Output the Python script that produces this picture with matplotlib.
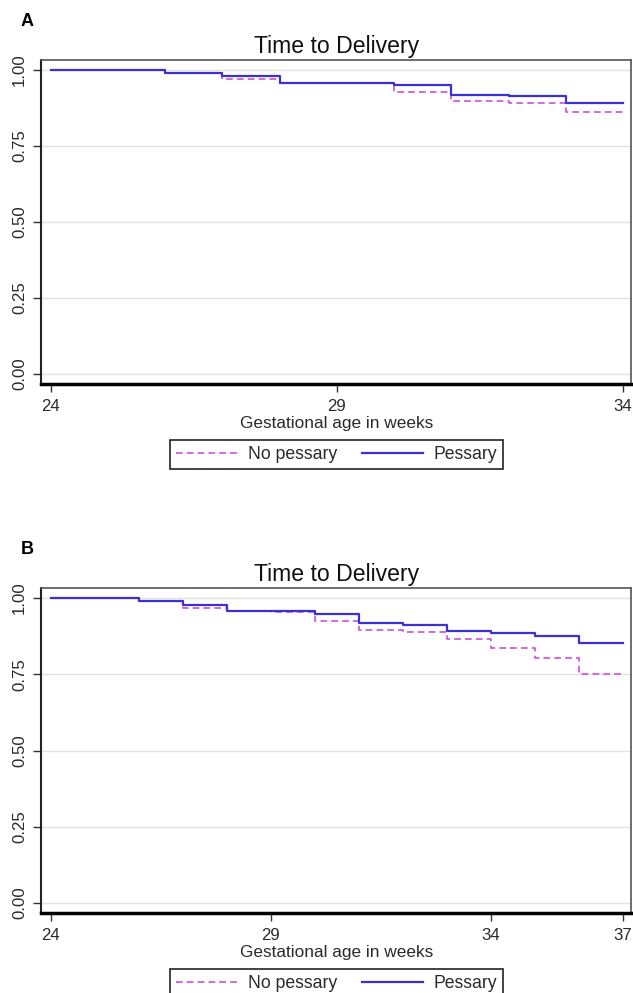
import matplotlib
matplotlib.use('Agg')
import matplotlib.pyplot as plt
from matplotlib import font_manager

# font: narrow sans if available
names = {f.name for f in font_manager.fontManager.ttflist}
FONT = 'Liberation Sans Narrow' if 'Liberation Sans Narrow' in names else 'Liberation Sans'
plt.rcParams['font.family'] = [FONT, 'DejaVu Sans']

# ==========================================
# DATA (Kaplan-Meier steps)
# ==========================================
a_t_pess = [24, 26, 27, 28, 30, 31, 32, 33, 34]
a_s_pess = [1.000, 0.991, 0.979, 0.958, 0.950, 0.919, 0.913, 0.892, 0.892]
a_t_nopess = [24, 26, 27, 28, 29, 30, 31, 32, 33, 34]
a_s_nopess = [1.000, 0.991, 0.969, 0.958, 0.956, 0.928, 0.898, 0.892, 0.863, 0.863]

b_t_pess = [24, 26, 27, 28, 30, 31, 32, 33, 34, 35, 36, 37]
b_s_pess = [1.000, 0.991, 0.976, 0.958, 0.948, 0.917, 0.911, 0.891, 0.885, 0.876, 0.853, 0.853]
b_t_nopess = [24, 26, 27, 28, 29, 30, 31, 32, 33, 34, 35, 36, 37]
b_s_nopess = [1.000, 0.991, 0.967, 0.958, 0.953, 0.925, 0.895, 0.889, 0.866, 0.836, 0.804, 0.750, 0.750]

a_xticks = [24, 29, 34]
b_xticks = [24, 29, 34, 37]
y_ticks = [0.00, 0.25, 0.50, 0.75, 1.00]

TITLE = 'Time to Delivery'
XLABEL = 'Gestational age in weeks'
LABELS = ['No pessary', 'Pessary']

C_PESS = '#3d2fd2'
C_NOPESS = '#cc4fdc'

W, H = 633, 993
NARROW = FONT == 'Liberation Sans Narrow'
K = 1.0 if NARROW else 0.83   # shrink wide font to keep text widths


def fx(px):
    return px / W


def fy(py):
    return 1 - py / H


def draw_panel(fig, top, bottom, letter, t_n, s_n, t_p, s_p, xticks, xlim):
    ax = fig.add_axes([fx(41), fy(bottom), fx(631) - fx(41), (bottom - top) / H])

    l1, = ax.step(t_n, s_n, where='post', color=C_NOPESS, lw=1.2,
                  linestyle=(0, (4, 2.5)), label=LABELS[0], zorder=3)
    l2, = ax.step(t_p, s_p, where='post', color=C_PESS, lw=1.6,
                  label=LABELS[1], zorder=4)

    ax.set_xlim(*xlim)
    ax.set_ylim(-0.033, 1.033)
    ax.set_xticks(xticks)
    ax.set_yticks(y_ticks)
    ax.set_yticklabels([f'{v:.2f}' for v in y_ticks])
    ax.grid(True, axis='y', color='#e2e2e2', lw=1.0)
    ax.set_axisbelow(True)

    ax.tick_params(axis='y', labelrotation=90, length=6, width=1, color='#333333',
                   pad=4, labelsize=14.5 * K, labelcolor='#2a2a2a')
    ax.tick_params(axis='x', length=6, width=1, color='#333333',
                   pad=5, labelsize=14.5 * K, labelcolor='#2a2a2a')
    for lab in ax.get_yticklabels():
        lab.set_va('center')

    for s in ['top', 'right']:
        ax.spines[s].set_color('#555555')
        ax.spines[s].set_linewidth(1.2)
    ax.spines['left'].set_color('#222222')
    ax.spines['left'].set_linewidth(1.5)
    ax.spines['bottom'].set_color('black')
    ax.spines['bottom'].set_linewidth(2.5)

    fig.text(fx(27), fy(top - 38), letter, ha='center', va='center',
             fontsize=13, fontweight='bold', family=['Liberation Sans', 'DejaVu Sans'])
    fig.text(fx(337), fy(top - 7), TITLE, ha='center', va='baseline',
             fontsize=20 * K, color='#111111')
    fig.text(fx(337), fy(bottom + 44), XLABEL, ha='center', va='baseline',
             fontsize=15 * K, color='#2a2a2a')

    leg = ax.legend([l1, l2], LABELS, ncol=2, loc='upper center',
                    bbox_to_anchor=(fx(336.5), fy(bottom + 56)),
                    bbox_transform=fig.transFigure, borderaxespad=0,
                    fontsize=15.3 * K, fancybox=False, framealpha=1,
                    edgecolor='#222222', handlelength=3.5, handletextpad=0.55,
                    columnspacing=1.4, borderpad=0.35)
    leg.get_frame().set_linewidth(1.2)
    for txt in leg.get_texts():
        txt.set_color('#2a2a2a')
    return ax


fig = plt.figure(figsize=(W / 100, H / 100), dpi=100)
draw_panel(fig, 60, 384, 'A', a_t_nopess, a_s_nopess, a_t_pess, a_s_pess,
           a_xticks, (23.83, 34.14))
draw_panel(fig, 588, 913, 'B', b_t_nopess, b_s_nopess, b_t_pess, b_s_pess,
           b_xticks, (23.78, 37.18))

plt.savefig('out.png', dpi=100)
